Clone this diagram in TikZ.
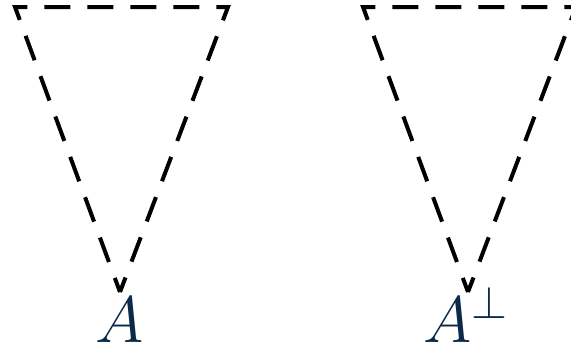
\documentclass[tikz,border=0pt]{standalone}
\usepackage{fix-cm}
\usepackage{xcolor}
\definecolor{labelnavy}{HTML}{0B2A4A}

\begin{document}
\begin{tikzpicture}[x=1bp, y=-1bp,
    cone/.style={line width=4bp, dash pattern=on 26bp off 17bp, dash phase=11bp, line join=miter},
    conelabel/.style={inner sep=0pt, anchor=base, text=labelnavy,
      font=\fontsize{66}{70}\selectfont}]
  \useasboundingbox (0,0) rectangle (571,352);
  % Left cone
  \coordinate (ltl) at (15,7);
  \coordinate (ltr) at (228,7);
  \coordinate (lap) at (120,292);
  \draw[cone] (lap) -- (ltl) -- (ltr) -- cycle;
  \node[conelabel] (labA) at (120,342) {$A$};
  % Right cone (runs past the right edge)
  \coordinate (rtl) at (363,7);
  \coordinate (rtr) at (576,7);
  \coordinate (rap) at (468,292);
  \begin{scope}
    \clip (0,0) rectangle (571,352);
    \draw[cone] (rap) -- (rtl) -- (rtr) -- cycle;
  \end{scope}
  \node[conelabel] (labAperp) at (466,342) {$A^{\perp}$};
\end{tikzpicture}
\end{document}
